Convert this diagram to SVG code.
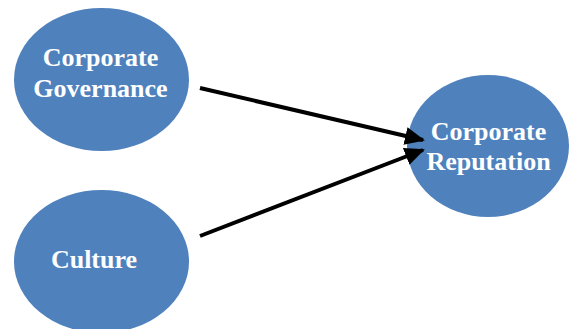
<svg xmlns="http://www.w3.org/2000/svg" width="569" height="329" viewBox="0 0 569 329">
<defs>
<style>
.node{fill:#4F81BD;}
.lbl{font-family:"Liberation Serif","Times New Roman",serif;font-weight:bold;font-size:26px;fill:#fff;text-anchor:middle;}
.edge{stroke:#000;stroke-width:4;fill:none;marker-end:url(#arr);}
</style>
<marker id="arr" markerUnits="userSpaceOnUse" markerWidth="20" markerHeight="18" refX="18" refY="9" orient="auto" viewBox="0 0 20 18">
<path d="M0,0 L20,9 L0,18 Z" fill="#000"/>
</marker>
</defs>
<rect width="569" height="329" fill="#fff"/>
<g id="corporate-governance">
<ellipse class="node" cx="101.5" cy="79.5" rx="87.5" ry="71.5"/>
<text class="lbl" x="100.5" y="66">Corporate</text>
<text class="lbl" x="100.5" y="97">Governance</text>
</g>
<g id="culture">
<ellipse class="node" cx="101.5" cy="261.5" rx="87.5" ry="71.5"/>
<text class="lbl" x="94" y="268">Culture</text>
</g>
<g id="corporate-reputation">
<ellipse class="node" cx="488" cy="146" rx="81" ry="71"/>
<text class="lbl" x="488.5" y="140">Corporate</text>
<text class="lbl" x="488.5" y="170">Reputation</text>
</g>
<g id="connectors">
<line class="edge" x1="200" y1="88" x2="423" y2="140"/>
<line class="edge" x1="200" y1="236" x2="423" y2="150"/>
</g>
</svg>
